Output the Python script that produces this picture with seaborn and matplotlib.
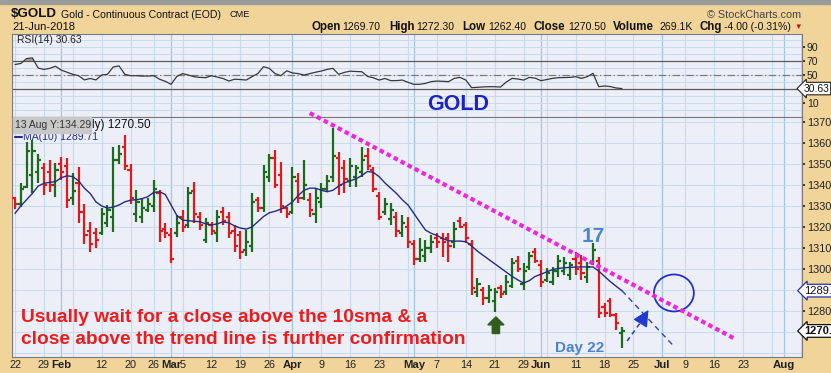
import numpy as np
import pandas as pd
import matplotlib
matplotlib.use("Agg")
import matplotlib.pyplot as plt
import seaborn as sns
from matplotlib.patches import Ellipse, FancyArrow, Rectangle

# ---------------- data ----------------
opens = [1334, 1331, 1339, 1345, 1346, 1348, 1346, 1340, 1350, 1349,
         1334, 1341, 1327, 1318, 1317, 1317, 1322, 1325, 1352, 1358,
         1347, 1326, 1325, 1328, 1330, 1336, 1319, 1316, 1317, 1325,
         1321, 1337, 1325, 1314, 1321, 1317, 1327, 1325, 1318, 1316,
         1309, 1311, 1333, 1329, 1344, 1353, 1345, 1329, 1327, 1342,
         1334, 1333, 1326, 1332, 1338, 1344, 1353, 1348, 1342, 1344,
         1346, 1354, 1347, 1335, 1327, 1324, 1325, 1317, 1320, 1312,
         1305, 1306, 1310, 1315, 1315, 1315, 1313, 1323, 1321, 1312,
         1289, 1290, 1286, 1285, 1291, 1289, 1292, 1304, 1293, 1301,
         1308, 1302, 1295, 1294, 1299, 1299, 1297, 1305, 1303, 1296,
         1303, 1304, 1282, 1285, 1278, 1269.7]
highs = [1334.5, 1340.8, 1360.6, 1361.4, 1355, 1350.3, 1351.9, 1350.3, 1353.5, 1352.7,
         1345.5, 1348.7, 1331, 1322.5, 1319.4, 1328.9, 1330.5, 1358.3, 1359, 1363.8,
         1350, 1337.6, 1333.6, 1333.6, 1342.4, 1337.6, 1322, 1319.4, 1325.7, 1328,
         1339.2, 1341.6, 1327.3, 1324.1, 1322.5, 1328, 1329.7, 1327.3, 1321, 1318,
         1318.6, 1336, 1334.4, 1349.5, 1355, 1356.7, 1351.1, 1329.7, 1348.7, 1345.5,
         1352, 1336, 1338.4, 1340.8, 1344.7, 1367, 1355.9, 1351.9, 1352.7, 1349.5,
         1358.3, 1357.5, 1348.7, 1336.8, 1333.6, 1331.3, 1327.3, 1325.7, 1324.9, 1313.8,
         1314.6, 1313.8, 1316.2, 1317, 1317, 1317, 1322.5, 1324.9, 1322.5, 1313.8,
         1295.6, 1291.6, 1292.4, 1290.8, 1292.4, 1297, 1305.1, 1306.2, 1302.7, 1308.3,
         1309.9, 1304.3, 1300.3, 1301, 1306.7, 1305.9, 1303.5, 1308.3, 1306.7, 1303.5,
         1312.2, 1305.9, 1283.7, 1286, 1278.9, 1272.3]
lows = [1328.5, 1329.7, 1338.4, 1336, 1340.8, 1335.2, 1336.8, 1334.4, 1342.4, 1328.9,
        1330.5, 1321.7, 1312, 1308.2, 1310, 1316.2, 1320, 1317.8, 1350, 1347.1,
        1331, 1322.5, 1321.7, 1327.3, 1327.3, 1313, 1315, 1302.7, 1315.4, 1317.8,
        1319.4, 1321.7, 1318.6, 1312.2, 1316.2, 1313, 1321, 1314.6, 1308.2, 1305,
        1306, 1308.2, 1327.3, 1327.3, 1341.6, 1338.4, 1326.5, 1324.1, 1326, 1331.3,
        1332.9, 1325, 1321.7, 1328.9, 1336.8, 1341.6, 1335.2, 1336, 1339.2, 1339.2,
        1344, 1347.1, 1336.8, 1323.3, 1325.7, 1321, 1315.4, 1315.4, 1309.8, 1301.9,
        1303.5, 1303.5, 1307.5, 1309.8, 1305.9, 1303.5, 1309.8, 1319.4, 1312.2, 1287.6,
        1286.8, 1282.9, 1283.7, 1279.7, 1286, 1287.6, 1290.8, 1298.7, 1290, 1299.5,
        1302.7, 1291.6, 1294, 1292.4, 1296.4, 1297.2, 1294.8, 1297.2, 1294.8, 1293.2,
        1302, 1276.5, 1277.3, 1277.3, 1271, 1262.4]
closes = [1331, 1338, 1356, 1356, 1352, 1340, 1340, 1347, 1346, 1333,
          1337, 1327, 1316, 1312, 1314, 1326, 1328, 1352, 1355, 1349,
          1334, 1332, 1329, 1331, 1338, 1318, 1317, 1305, 1322, 1320,
          1336, 1326, 1321, 1322, 1318, 1325, 1323, 1317, 1311, 1308,
          1313, 1332, 1329, 1346, 1353, 1340, 1330, 1326, 1344, 1334,
          1340, 1328, 1334, 1338, 1342, 1354, 1340, 1343, 1349, 1348,
          1352, 1349, 1338, 1325, 1331, 1328, 1318, 1322, 1313, 1305,
          1309, 1310, 1313, 1313, 1313, 1311, 1319, 1320, 1315, 1291,
          1293, 1286, 1290, 1289, 1288, 1294, 1303, 1300, 1299, 1306,
          1304, 1294, 1298, 1299, 1304, 1303, 1302, 1300, 1298, 1301,
          1309, 1279, 1279, 1278, 1274.5, 1270.5]
ma10 = [1326.5, 1330, 1333, 1336, 1339.5, 1340.8, 1341.3, 1341.6, 1343.5, 1344.4,
        1344, 1342, 1338.5, 1336, 1332, 1330, 1329, 1329.5, 1330.5, 1332,
        1332.8, 1333, 1333.5, 1334.5, 1336.5, 1336.8, 1335.5, 1330.5, 1325.5, 1323.3,
        1323, 1322.8, 1322.5, 1321.5, 1321, 1321.5, 1322.5, 1322, 1320.5, 1319.5,
        1319, 1320, 1322.5, 1325, 1326.8, 1327.5, 1328.5, 1330, 1332, 1335,
        1337.5, 1338.5, 1338.5, 1337.5, 1336.8, 1337.5, 1339.5, 1341, 1342, 1343,
        1344.5, 1346.5, 1346, 1344, 1341, 1338.5, 1336, 1333, 1330.5, 1326.5,
        1322.5, 1318.6, 1317, 1316, 1314.5, 1313.5, 1313.3, 1313.3, 1313, 1311,
        1308.5, 1306.5, 1304.5, 1302.5, 1300.5, 1298.5, 1296.5, 1294.8, 1293.3, 1294.5,
        1296.5, 1297.5, 1298.7, 1299.7, 1300.3, 1300.6, 1300.8, 1300.9, 1301, 1301,
        1301, 1299, 1296.5, 1294, 1291.8, 1289.71]
rsi14 = [65, 66.5, 73.5, 74.5, 60, 58, 59.5, 62.5, 57, 54,
         51, 49, 43, 45, 43, 50, 51, 61.5, 63, 51,
         49, 49, 48.5, 48.5, 49, 44, 41, 36.7, 48, 52,
         50, 47.5, 46.6, 46.2, 49, 47, 45, 41.4, 44, 43.5,
         42.8, 47.6, 52, 61.9, 59.5, 52, 49, 56, 53, 52,
         50, 52, 54, 55.7, 58, 59.5, 51, 53.8, 55.5, 55,
         54.7, 48, 46, 42.8, 45, 42, 42, 42.8, 39.5, 36.7,
         36.7, 38, 40.5, 41.4, 41, 40.5, 45.2, 46.6, 42.8, 31.9,
         32.4, 33, 33.3, 33.3, 32.8, 40, 45.2, 44.3, 42.8, 46.6,
         45.5, 41.9, 43.5, 45.2, 46.2, 46.4, 46.6, 47.6, 45.2, 47.6,
         52.4, 33.3, 34.3, 33.5, 31.5, 30.63]

tick_dates = ["2018-01-22", "2018-01-29", "2018-02-01", "2018-02-12", "2018-02-20",
              "2018-02-26", "2018-03-01", "2018-03-05", "2018-03-12", "2018-03-19",
              "2018-03-26", "2018-04-02", "2018-04-09", "2018-04-16", "2018-04-23",
              "2018-05-01", "2018-05-07", "2018-05-14", "2018-05-21", "2018-05-29",
              "2018-06-01", "2018-06-11", "2018-06-18", "2018-06-25", "2018-07-02",
              "2018-07-09", "2018-07-16", "2018-07-23", "2018-08-01"]
tick_labels = ["22", "29", "Feb", "12", "20", "26", "Mar", "5", "12", "19", "26", "Apr",
               "9", "16", "23", "May", "7", "14", "21", "29", "Jun", "11", "18", "25",
               "Jul", "9", "16", "23", "Aug"]
holidays = ["2018-02-19", "2018-03-30", "2018-05-28", "2018-07-04"]

# annotation anchors (trading-day index, price)
trend_x, trend_y = [51.0, 124.6], [1374.3, 1266.7]
proj_x, proj_y = [105, 113.8], [1289.71, 1263.8]

# ---------------- styling ----------------
W, H = 831, 373
TAN = "#F0D49A"
BG = "#EDEFF8"
GRID = "#C6DCEE"
GRID_M = "#A3C4E2"
GREEN = "#1C6B1C"
RED = "#E01A1A"
NAVY = "#232C80"
MAG = "#F026DC"
BLUE = "#1F3BD0"
LBLUE = "#4C82D2"

sns.set_theme(style="white")
plt.rcParams["font.family"] = ["Liberation Sans", "DejaVu Sans"]


def fx(x):
    return x / W


def fy(y):
    return 1 - y / H


days = pd.bdate_range("2018-01-22", "2018-08-10")
days = days[~days.isin(pd.to_datetime(holidays))]
pos = {d: i for i, d in enumerate(days)}
n = len(closes)
df = pd.DataFrame({"idx": np.arange(n), "open": opens, "high": highs, "low": lows,
                   "close": closes, "ma": ma10, "rsi": rsi14})

fig = plt.figure(figsize=(W / 100, H / 100), dpi=100, facecolor=TAN)
ax_r = fig.add_axes([fx(12), fy(117), fx(802) - fx(12), fy(34) - fy(117)])
ax_p = fig.add_axes([fx(12), fy(357), fx(802) - fx(12), fy(117) - fy(357)])
XL = (-0.52, 136.16)

# top grey strip
fig.patches.append(Rectangle((0, fy(4)), 1, 4 / H, transform=fig.transFigure,
                             color="#9C9C9C", zorder=0))

# week / month grid positions
week_starts, month_starts = [], []
prev = None
for d in days:
    if prev is None or d.isocalendar()[1] != prev.isocalendar()[1]:
        week_starts.append(pos[d])
    if prev is None or d.month != prev.month:
        month_starts.append(pos[d])
    prev = d

for ax in (ax_r, ax_p):
    ax.set_facecolor(BG)
    ax.set_xlim(*XL)
    for w in week_starts:
        ax.axvline(w, color=GRID, lw=0.8, zorder=0)
    for m in month_starts[1:]:
        ax.axvline(m, color=GRID_M, lw=0.9, zorder=0)
    for s in ax.spines.values():
        s.set_color("#7A7A7A")
        s.set_linewidth(0.8)

# ---------------- RSI panel ----------------
ax_r.set_ylim(-10, 108.6)
for v in range(0, 101, 10):
    ax_r.axhline(v, color=GRID, lw=0.7, zorder=0)
ax_r.axhline(70, color="#5A5A5A", lw=0.9)
ax_r.axhline(30, color="#5A5A5A", lw=0.9)
ax_r.axhline(50, color="#7A7A7A", lw=0.9, ls=(0, (6, 2, 1, 2)))
rs = np.array(rsi14)
ax_r.fill_between(df["idx"], rs, 70, where=rs > 70, interpolate=True,
                  color="#A89C88", lw=0)
sns.lineplot(data=df, x="idx", y="rsi", ax=ax_r, color="#383838", linewidth=0.9)
ax_r.set_xlabel("")
ax_r.set_ylabel("")
ax_r.set_xticks([])
ax_r.yaxis.tick_right()
ax_r.set_yticks([90, 70, 50, 10])
ax_r.tick_params(axis="y", labelsize=7.5, length=2, pad=1.5, colors="#222")
ax_r.text(0.3, 100, "RSI(14) 30.63", fontsize=7.5, color="#222", va="center")
ax_r.text(1.002, (30.63 + 10) / 118.6, "30.63", transform=ax_r.transAxes,
          fontsize=7.5, va="center", ha="left", color="#111",
          bbox=dict(boxstyle="larrow,pad=0.12", fc="white", ec="#222", lw=0.8),
          clip_on=False)
fig.text(fx(458), fy(104), "GOLD", fontsize=15.5, weight="bold", color="#1A22C8",
         ha="center", va="center")

# ---------------- price panel ----------------
ax_p.set_ylim(1258.1, 1372.4)
for v in range(1260, 1371, 10):
    ax_p.axhline(v, color=GRID, lw=0.7, zorder=0)

up = df["close"] >= df["open"]
for mask, col in ((up, GREEN), (~up, RED)):
    sub = df[mask]
    ax_p.vlines(sub["idx"], sub["low"], sub["high"], color=col, lw=1.6, zorder=3)
    ax_p.hlines(sub["open"], sub["idx"] - 0.55, sub["idx"], color=col, lw=1.6, zorder=3)
    ax_p.hlines(sub["close"], sub["idx"], sub["idx"] + 0.55, color=col, lw=1.6, zorder=3)

sns.lineplot(data=df, x="idx", y="ma", ax=ax_p, color=NAVY, linewidth=1.0, zorder=4)
ax_p.set_xlabel("")
ax_p.set_ylabel("")

ax_p.plot(proj_x, proj_y, color="#2A45C0", lw=1.0, ls=(0, (4, 3)), zorder=4)
ax_p.plot(trend_x, trend_y, color=MAG, lw=3.0, ls=(0, (1.1, 0.8)),
          dash_capstyle="butt", clip_on=False, zorder=6)
ax_p.add_patch(Ellipse((114.0, 1288.6), width=6.9, height=17.6, fill=False,
                       ec="#2430C8", lw=1.3, zorder=5))
# blue arrow
ax_p.plot([105.9, 108.6], [1265.7, 1276.0], color=BLUE, lw=1.1, ls=(0, (3, 2.5)), zorder=5)
ax_p.annotate("", xy=(109.6, 1280.5), xytext=(108.6, 1276.0),
              arrowprops=dict(arrowstyle="-|>,head_length=0.9,head_width=0.45",
                              color=BLUE, lw=1.0, shrinkA=0, shrinkB=0,
                              mutation_scale=11), zorder=5)
# green arrow
ax_p.add_patch(FancyArrow(83.2, 1269.3, 0, 7.9, width=1.25, head_width=2.8,
                          head_length=3.8, length_includes_head=True,
                          color="#2F5E1E", zorder=5))

ax_p.text(100.1, 1315.5, "17", fontsize=15, weight="bold", color=LBLUE,
          ha="center", va="center")
ax_p.text(97.6, 1262.2, "Day 22", fontsize=11, weight="bold", color=LBLUE,
          ha="center", va="center")
fig.text(fx(21), fy(318), "Usually wait for a close above the 10sma & a",
         fontsize=13.8, weight="bold", color="#EC1C1C", va="center")
fig.text(fx(21), fy(339), "close above the trend line is further confirmation",
         fontsize=13.8, weight="bold", color="#EC1C1C", va="center")

# legend area
fig.patches.append(Rectangle((fx(13), fy(133)), fx(91) - fx(13), 16 / H,
                             transform=fig.transFigure, color="#C8C8C8", zorder=5))
fig.text(fx(15), fy(125.5), "13 Aug Y:134.29", fontsize=7.5, color="#333",
         va="center", zorder=6)
fig.text(fx(92), fy(125), "ly) 1270.50", fontsize=8.5, color="#111", va="center")
fig.lines.append(plt.Line2D([fx(15), fx(22)], [fy(137), fy(137)], color=NAVY, lw=1.5,
                            transform=fig.transFigure))
fig.text(fx(23), fy(137), "MA(10) 1289.71", fontsize=7.5, color=NAVY, va="center",
         zorder=4)

# axes ticks
ax_p.yaxis.tick_right()
ax_p.set_yticks([1280] + list(range(1300, 1371, 10)))
ax_p.tick_params(axis="y", labelsize=7.8, length=2, pad=1.5, colors="#222")
tpos = [pos[pd.Timestamp(d)] for d in tick_dates]
ax_p.set_xticks(tpos)
ax_p.set_xticklabels(tick_labels)
ax_p.tick_params(axis="x", labelsize=7.8, length=0, pad=2.5, colors="#222")
for lab in ax_p.get_xticklabels():
    if lab.get_text().isalpha():
        lab.set_fontweight("bold")
        lab.set_fontsize(8.2)


def ytag(val, txt, bold, ec):
    yfrac = (val - 1258.1) / (1372.4 - 1258.1)
    ax_p.text(1.003, yfrac, txt, transform=ax_p.transAxes, fontsize=8,
              weight="bold" if bold else "normal", va="center", ha="left",
              color="#111",
              bbox=dict(boxstyle="larrow,pad=0.12", fc="white", ec=ec, lw=0.9),
              clip_on=False)


ytag(1289.71, "1289.71", False, "#2432B0")
ytag(1270.50, "1270.50", True, "#111")

# header
fig.text(fx(11), fy(14), "$GOLD", fontsize=9.6, weight="bold", color="#111", va="center")
fig.text(fx(61), fy(14.5), "Gold - Continuous Contract (EOD)", fontsize=7.6, color="#111",
         va="center")
fig.text(fx(230), fy(14.5), "CME", fontsize=6.6, color="#111", va="center")
fig.text(fx(12), fy(27), "21-Jun-2018", fontsize=8, color="#111", va="center")
fig.text(fx(801), fy(15), "\u00a9 StockCharts.com", fontsize=7.8, color="#444",
         va="center", ha="right")
pieces = [(312, "Open", True), (342, "1269.70", False), (389, "High", True),
          (416, "1272.30", False), (462, "Low", True), (488, "1262.40", False),
          (533, "Close", True), (568, "1270.50", False), (613, "Volume", True),
          (659, "269.1K", False), (699, "Chg", True), (724, "-4.00 (-0.31%)", False)]
for x, t, b in pieces:
    fig.text(fx(x), fy(27), t, fontsize=8.3 if b else 7.6, weight="bold" if b else "normal",
             color="#111", va="center")
fig.text(fx(794), fy(27), "\u25BC", fontsize=5.5, color="#D01010", va="center")

fig.savefig("out.png", dpi=100, facecolor=TAN)
